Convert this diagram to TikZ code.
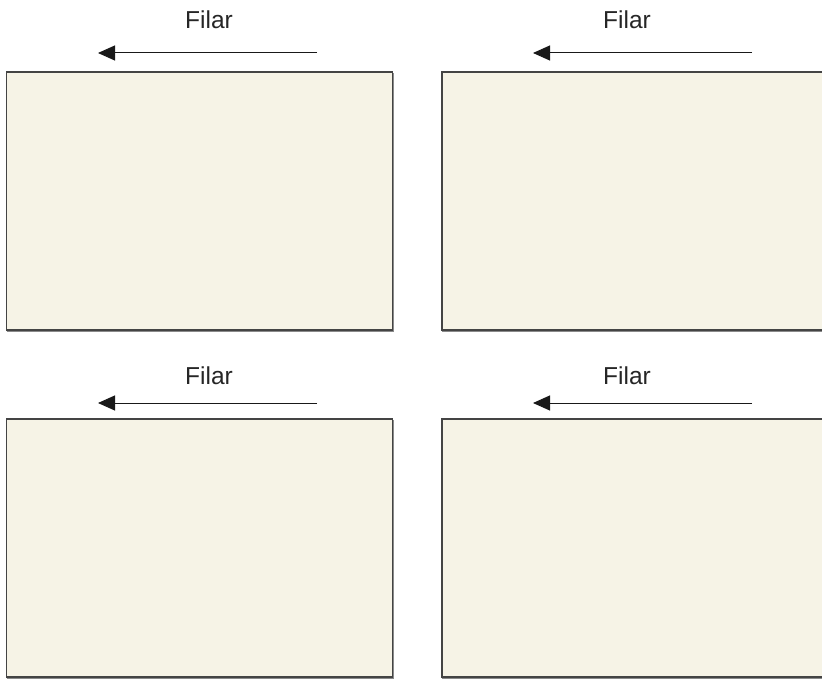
\documentclass[tikz,border=0pt]{standalone}
\usepackage{fontspec}
\setmainfont{Liberation Sans}
\usetikzlibrary{arrows.meta}
\definecolor{panelfill}{HTML}{F6F3E6}
\definecolor{panelline}{HTML}{444444}
\definecolor{panelshade}{HTML}{8A8A8A}
\tikzset{
  panel/.style={draw=panelline, line width=1.2pt, fill=panelfill},
  lbl/.style={font=\fontsize{24.5}{27}\selectfont, text=black!85, inner sep=0pt, anchor=base},
  flow/.style={draw=black!90, line width=1pt, -{Triangle[length=17pt,width=15pt]}}
}
\begin{document}
\begin{tikzpicture}[x=1pt,y=-1pt]
\useasboundingbox (0,0) rectangle (822,682);
\clip (0,0) rectangle (822,682);
% panels
\draw[panelshade, line width=1.2pt] (6.5,331.5) -- (393.5,331.5) -- (393.5,73);
\draw[panel] (6.5,72) rectangle (392.5,330);
\draw[panelshade, line width=1.2pt] (442,331.5) -- (830,331.5);
\draw[panel] (442,72) rectangle (830,330);
\draw[panelshade, line width=1.2pt] (6.5,678.5) -- (393.5,678.5) -- (393.5,420);
\draw[panel] (6.5,419) rectangle (392.5,677);
\draw[panelshade, line width=1.2pt] (442,678.5) -- (830,678.5);
\draw[panel] (442,419) rectangle (830,677);
% labels
\node[lbl] (l1) at (209,29) {Filar};
\node[lbl] (l2) at (627,29) {Filar};
\node[lbl] (l3) at (209,384) {Filar};
\node[lbl] (l4) at (627,384) {Filar};
% arrows
\coordinate (a1s) at (317,53);  \coordinate (a1e) at (98,53);
\coordinate (a2s) at (752,53);  \coordinate (a2e) at (533,53);
\coordinate (a3s) at (317,403); \coordinate (a3e) at (98,403);
\coordinate (a4s) at (752,403); \coordinate (a4e) at (533,403);
\draw[flow] (a1s) -- (a1e);
\draw[flow] (a2s) -- (a2e);
\draw[flow] (a3s) -- (a3e);
\draw[flow] (a4s) -- (a4e);
\end{tikzpicture}
\end{document}
